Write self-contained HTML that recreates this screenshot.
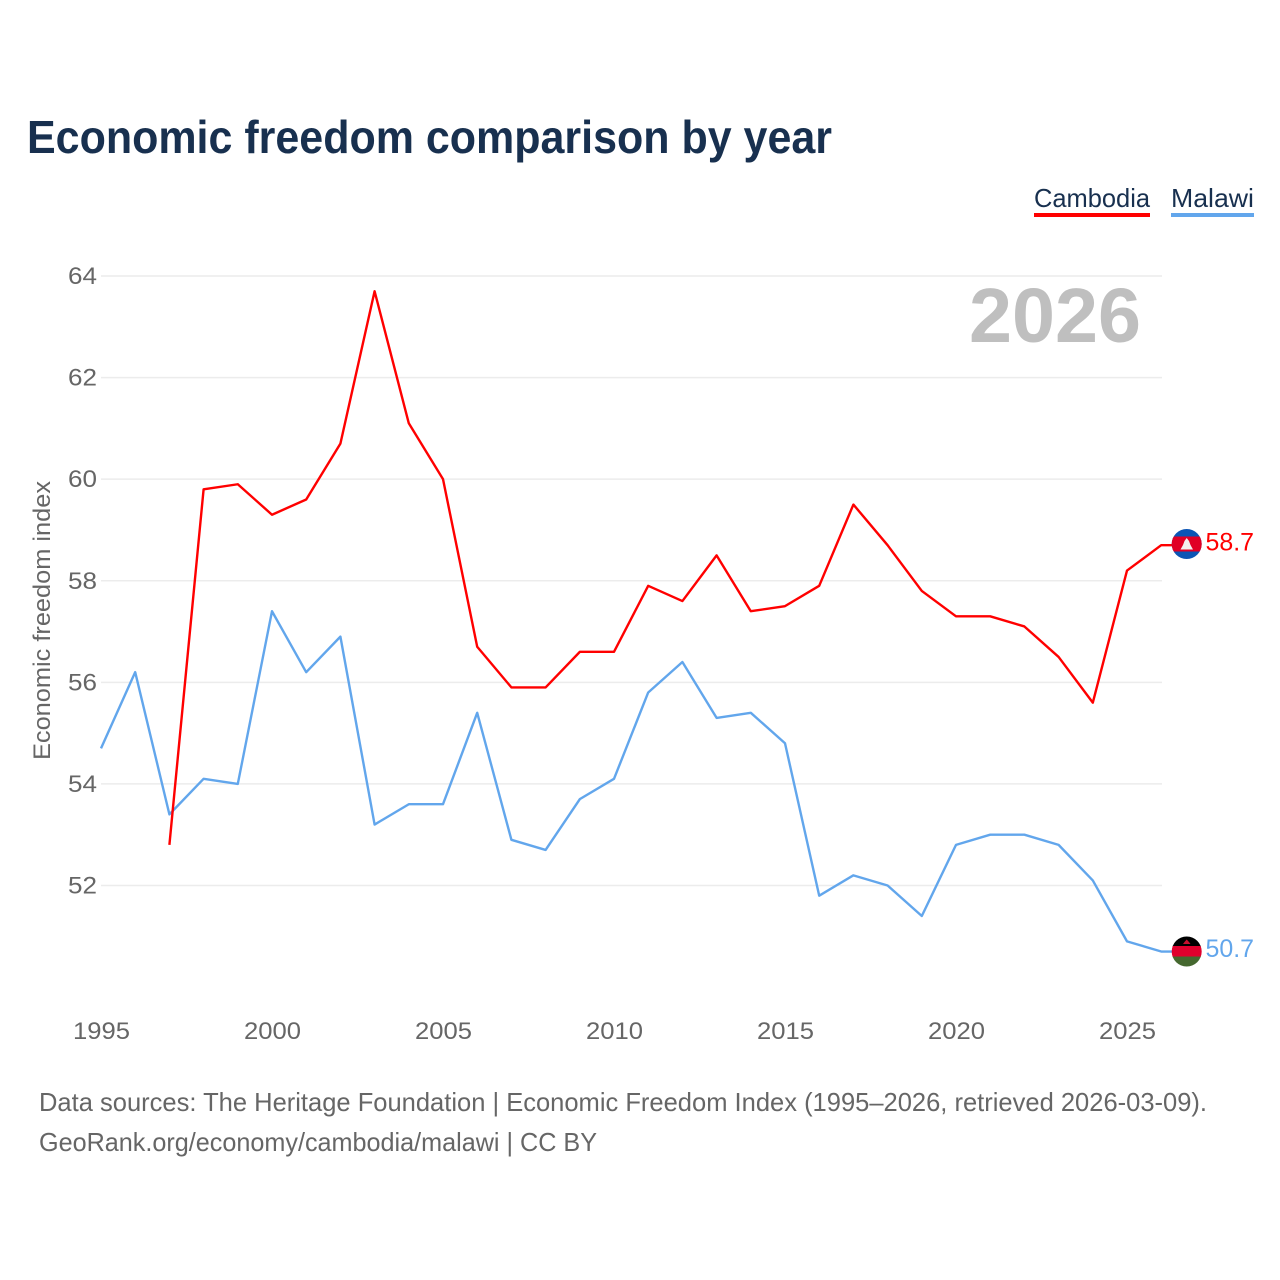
<!DOCTYPE html>
<html><head><meta charset="utf-8"><title>Economic freedom comparison by year</title>
<style>
html,body{margin:0;padding:0;background:#fff}
svg{display:block}
text{font-family:"Liberation Sans",sans-serif}
</style></head>
<body>
<svg id="chart" xmlns="http://www.w3.org/2000/svg" width="1280" height="1280" viewBox="0 0 1280 1280">
<rect width="1280" height="1280" fill="#fff"/>
<text x="27" y="153" font-size="46" font-weight="700" fill="#18304f" textLength="805" lengthAdjust="spacingAndGlyphs">Economic freedom comparison by year</text>
<text x="1034" y="207" font-size="26" fill="#18304f" textLength="116" lengthAdjust="spacingAndGlyphs">Cambodia</text>
<rect x="1034" y="213" width="116" height="4" fill="#ff0000"/>
<text x="1171" y="207" font-size="26" fill="#18304f" textLength="83" lengthAdjust="spacingAndGlyphs">Malawi</text>
<rect x="1171" y="213" width="83" height="4" fill="#62a6ec"/>
<g id="grid"></g>
<text x="1141" y="342" text-anchor="end" font-size="77" font-weight="700" fill="#bfbfbf" textLength="172" lengthAdjust="spacingAndGlyphs">2026</text>
<text transform="translate(50,760) rotate(-90)" font-size="24" fill="#666" textLength="279" lengthAdjust="spacingAndGlyphs">Economic freedom index</text>
<g id="series"></g>
<g id="end-labels"></g>
<text x="39" y="1111" font-size="26" fill="#666" textLength="1168" lengthAdjust="spacingAndGlyphs">Data sources: The Heritage Foundation | Economic Freedom Index (1995–2026, retrieved 2026-03-09).</text>
<text x="39" y="1151" font-size="26" fill="#666" textLength="558" lengthAdjust="spacingAndGlyphs">GeoRank.org/economy/cambodia/malawi | CC BY</text>
<defs>
<clipPath id="flag-clip-k"><circle cx="1186.7" cy="544" r="15"/></clipPath>
<clipPath id="flag-clip-m"><circle cx="1186.7" cy="951.5" r="15"/></clipPath>
</defs>
</svg>
<script>
const NS = 'http://www.w3.org/2000/svg';
const xTicks = [1995, 2000, 2005, 2010, 2015, 2020, 2025];
const yTicks = [52, 54, 56, 58, 60, 62, 64];
const cambodiaYears = [1997, 1998, 1999, 2000, 2001, 2002, 2003, 2004, 2005, 2006, 2007, 2008, 2009, 2010, 2011, 2012, 2013, 2014, 2015, 2016, 2017, 2018, 2019, 2020, 2021, 2022, 2023, 2024, 2025, 2026];
const cambodiaValues = [52.8, 59.8, 59.9, 59.3, 59.6, 60.7, 63.7, 61.1, 60.0, 56.7, 55.9, 55.9, 56.6, 56.6, 57.9, 57.6, 58.5, 57.4, 57.5, 57.9, 59.5, 58.7, 57.8, 57.3, 57.3, 57.1, 56.5, 55.6, 58.2, 58.7];
const malawiYears = [1995, 1996, 1997, 1998, 1999, 2000, 2001, 2002, 2003, 2004, 2005, 2006, 2007, 2008, 2009, 2010, 2011, 2012, 2013, 2014, 2015, 2016, 2017, 2018, 2019, 2020, 2021, 2022, 2023, 2024, 2025, 2026];
const malawiValues = [54.7, 56.2, 53.4, 54.1, 54.0, 57.4, 56.2, 56.9, 53.2, 53.6, 53.6, 55.4, 52.9, 52.7, 53.7, 54.1, 55.8, 56.4, 55.3, 55.4, 54.8, 51.8, 52.2, 52.0, 51.4, 52.8, 53.0, 53.0, 52.8, 52.1, 50.9, 50.7];

function xScale(year) { return 101 + (year - 1995) * (1161.2 - 101) / 31; }
function yScale(v) { return 885.5 - (v - 52) * (885.5 - 276) / 12; }
function make(tag, attrs, parent, txt) {
  const el = document.createElementNS(NS, tag);
  for (const k in attrs) el.setAttribute(k, attrs[k]);
  if (txt !== undefined) el.textContent = txt;
  parent.appendChild(el);
  return el;
}
const grid = document.getElementById('grid');
yTicks.forEach(function (t) {
  const line = make('line', { x1: 101, x2: 1162, y1: yScale(t), y2: yScale(t), stroke: '#ececec', 'stroke-width': 1.5 }, grid);
  
  
  const label = make('text', { x: 97, y: yScale(t) + 8, 'text-anchor': 'end', 'font-size': 24.5, fill: '#666', textLength: 29, lengthAdjust: 'spacingAndGlyphs' }, grid, String(t));
  
  
});
xTicks.forEach(function (t) {
  const label = make('text', { x: xScale(t) + 0.5, y: 1039, 'text-anchor': 'middle', 'font-size': 24.5, fill: '#666', textLength: 57, lengthAdjust: 'spacingAndGlyphs' }, grid, String(t));
  
  
});
const series = document.getElementById('series');
function pathFor(years, values) {
  const pts = values.map(function (v, i) { return (i ? 'L' : 'M') + xScale(years[i]).toFixed(2) + ' ' + yScale(v).toFixed(2); });
  return pts.join(' ') + ' H1172';
}
const malawiLine = make('path', { d: pathFor(malawiYears, malawiValues), fill: 'none', stroke: '#62a6ec', 'stroke-width': 2.4, 'stroke-linejoin': 'round' }, series);


const cambodiaLine = make('path', { d: pathFor(cambodiaYears, cambodiaValues), fill: 'none', stroke: '#ff0000', 'stroke-width': 2.4, 'stroke-linejoin': 'round' }, series);



const endLabels = document.getElementById('end-labels');
const lastK = cambodiaValues[cambodiaValues.length - 1];
const lastM = malawiValues[malawiValues.length - 1];
const ky = yScale(lastK);
const my = yScale(lastM);

const flagK = make('g', { 'clip-path': 'url(#flag-clip-k)' }, endLabels);


make('rect', { x: 1171, y: 529, width: 31, height: 30, fill: '#0b55b5' }, flagK);
make('rect', { x: 1171, y: 536.5, width: 31, height: 15, fill: '#e00025' }, flagK);
make('path', { d: 'M1186.7 538 L1189 541 L1190.5 545 L1193 549.5 L1180.5 549.5 L1183 545 L1184.5 541 Z', fill: '#f4f0f0' }, flagK);

const flagM = make('g', { 'clip-path': 'url(#flag-clip-m)' }, endLabels);


make('rect', { x: 1171, y: 936, width: 31, height: 11, fill: '#000' }, flagM);
make('rect', { x: 1171, y: 946, width: 31, height: 11, fill: '#e0002d' }, flagM);
make('rect', { x: 1171, y: 956.5, width: 31, height: 11, fill: '#45682f' }, flagM);
make('path', { d: 'M1183 944 L1190.5 944 L1189 942 L1186.7 939.5 L1184.5 942 Z', fill: '#c8102e' }, flagM);

const kLabel = make('text', { x: 1205.5, y: ky + 5.5, 'font-size': 25, fill: '#ff0000', textLength: 48.5, lengthAdjust: 'spacingAndGlyphs' }, endLabels, lastK.toFixed(1));


const mLabel = make('text', { x: 1205.5, y: my + 5.5, 'font-size': 25, fill: '#62a6ec', textLength: 48.5, lengthAdjust: 'spacingAndGlyphs' }, endLabels, lastM.toFixed(1));


</script>
</body></html>
